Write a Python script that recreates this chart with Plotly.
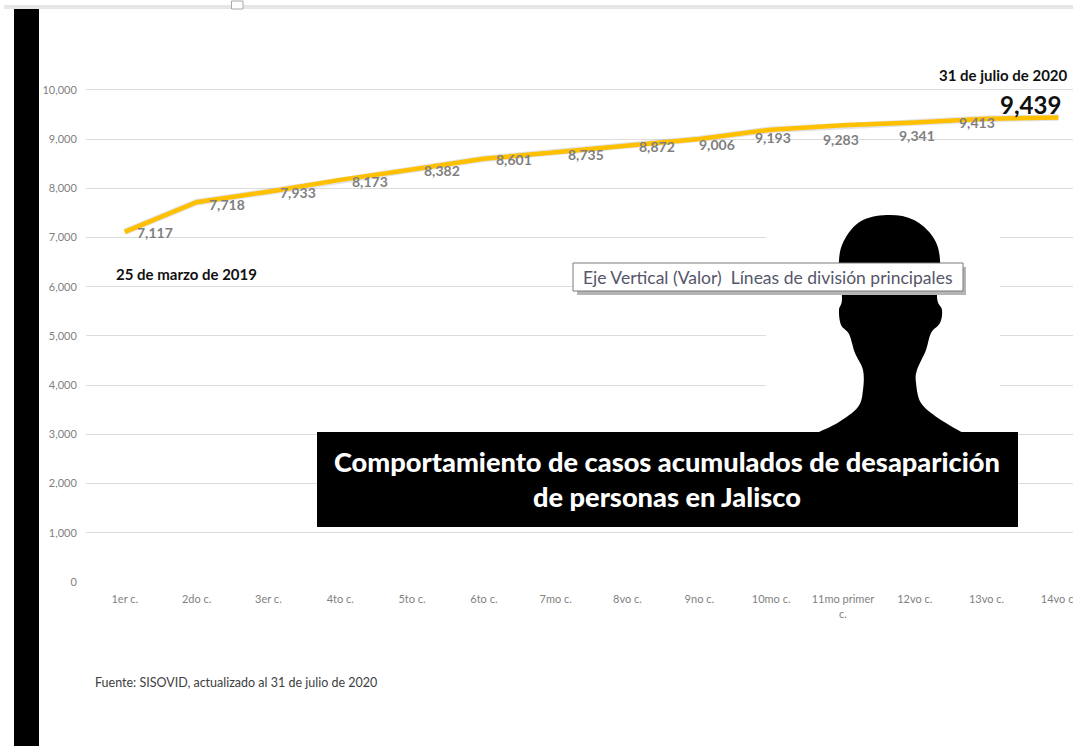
import plotly.graph_objects as go

W, H = 1090, 746
L, R, T, B = 86, 0, 40, 164

categories = ["1er c.", "2do c.", "3er c.", "4to c.", "5to c.", "6to c.", "7mo c.", "8vo c.",
              "9no c.", "10mo c.", "11mo primer<br>c.", "12vo c.", "13vo c.", "14vo c."]
casos = [7117, 7718, 7933, 8173, 8382, 8601, 8735, 8872, 9006, 9193, 9283, 9341, 9413, 9439]
y_ticks = [0, 1000, 2000, 3000, 4000, 5000, 6000, 7000, 8000, 9000, 10000]
label_dx = [30, 30, 30, 30, 30, 30, 30, 29, 18, 2, -2, 2, -10]
label_dy = [1, 2, 1, 2, 1, 1, 2, 1, 6, 8, 14, 13, 4]
silhouette = [(817, 433), (839, 422), (858, 407), (863, 390), (863, 370), (855, 353), (849, 334),
              (841, 325), (839, 310), (842, 298), (839, 260), (846, 237), (863, 220), (890, 215),
              (914, 220), (933, 237), (940, 260), (937, 297), (942, 310), (940, 323), (931, 333),
              (926, 350), (917, 370), (916, 383), (921, 403), (938, 418), (963, 433)]

FONT = "Lato"
xs = list(range(len(categories)))
pw, ph = W - L - R, H - T - B


def px(x):
    return (x - L) / pw


def py(y):
    return 1 - (y - T) / ph


def rect(x0, y0, x1, y1, fill, line=None, width=0):
    return dict(type="rect", xref="paper", yref="paper", x0=px(x0), x1=px(x1), y0=py(y1), y1=py(y0),
                fillcolor=fill, line=dict(color=line or fill, width=width), layer="above")


def note(text, x, y, size, color, bold=False, align="center", weight=None):
    return dict(text=f"<b>{text}</b>" if bold else text, xref="paper", yref="paper", x=px(x), y=py(y),
                xanchor=align, yanchor="middle", align=align, showarrow=False,
                font=dict(family=FONT, size=size, color=color, **({"weight": weight} if weight else {})))


def smooth_path(points):
    parts = [f"M {px(points[0][0])},{py(points[0][1])}"]
    for i in range(len(points) - 1):
        p0 = points[max(i - 1, 0)]
        p1 = points[i]
        p2 = points[i + 1]
        p3 = points[min(i + 2, len(points) - 1)]
        c1 = (p1[0] + (p2[0] - p0[0]) / 6, p1[1] + (p2[1] - p0[1]) / 6)
        c2 = (p2[0] - (p3[0] - p1[0]) / 6, p2[1] - (p3[1] - p1[1]) / 6)
        parts.append(f"C {px(c1[0])},{py(c1[1])} {px(c2[0])},{py(c2[1])} {px(p2[0])},{py(p2[1])}")
    return " ".join(parts) + " Z"


fig = go.Figure()
fig.add_trace(go.Scatter(x=xs, y=casos, mode="lines", line=dict(color="#808080", width=6.5), opacity=0.22,
                         hoverinfo="skip"))
fig.add_trace(go.Scatter(x=xs, y=casos, mode="lines", line=dict(color="#ffc000", width=4.5), hoverinfo="skip"))

shapes = [
    rect(4, 5, W, 9, "#e6e6e6"),
    rect(231.5, 1, 243, 9, "#ffffff", "#a8a8a8", 1),
    rect(14, 9, 39, H, "#000000"),
    rect(766, 200, 1000, 432, "#ffffff"),
    dict(type="path", xref="paper", yref="paper", path=smooth_path(silhouette), fillcolor="#000000",
         line=dict(color="#000000", width=0), layer="above"),
    rect(317, 432, 1018, 527, "#000000"),
    rect(577, 267, 966, 295, "#b5b5b5"),
    rect(573, 263, 963, 291, "#ffffff", "#7a7a7a", 1),
]

annotations = [
    dict(x=x, y=v, xref="x", yref="y", text=f"<b>{v:,}</b>", showarrow=False, xshift=dx, yshift=-dy,
         xanchor="center", yanchor="middle", font=dict(family=FONT, size=14, color="#7f7f7f"))
    for x, v, dx, dy in zip(xs, casos, label_dx, label_dy)
]
annotations += [
    dict(x=xs[-1], y=casos[-1], xref="x", yref="y", text=f"<b>{casos[-1]:,}</b>", showarrow=False,
         xshift=-28, yshift=13, xanchor="center", yanchor="middle",
         font=dict(family=FONT, size=24, color="#111111")),
    note("31 de julio de 2020", 1003, 75, 15, "#111111", bold=True),
    note("25 de marzo de 2019", 186, 274, 15, "#111111", bold=True),
    note("Fuente: SISOVID, actualizado al 31 de julio de 2020", 93, 682, 12.5, "#404040", align="left"),
    note("Eje Vertical (Valor)&nbsp;&nbsp;Líneas de división principales", 581, 277, 17.5, "#55566a", align="left"),
    note("Comportamiento de casos acumulados de desaparición<br>de personas en Jalisco", 667, 479, 27.2,
         "#ffffff", weight=900),
]

fig.update_layout(
    width=W, height=H, margin=dict(l=L, r=R, t=T, b=B), showlegend=False,
    paper_bgcolor="#ffffff", plot_bgcolor="#ffffff", shapes=shapes, annotations=annotations,
    xaxis=dict(range=[-0.54, 13.44], tickmode="array", tickvals=xs, ticktext=categories, showgrid=False,
               zeroline=False, showline=False, ticks="outside", ticklen=7, tickcolor="#ffffff",
               tickfont=dict(family=FONT, size=11, color="#7f7f7f")),
    yaxis=dict(range=[0, 11016], tickmode="array", tickvals=y_ticks, ticktext=[f"{v:,}" for v in y_ticks],
               showgrid=True, gridcolor="#dcdcdc", gridwidth=1, zeroline=False, showline=False,
               ticks="outside", ticklen=6, tickcolor="#ffffff",
               tickfont=dict(family=FONT, size=11, color="#7f7f7f")),
)

fig.write_html("out.html", config={"displayModeBar": False},
               post_script="document.body.style.margin='0';document.body.style.overflow='hidden';")
